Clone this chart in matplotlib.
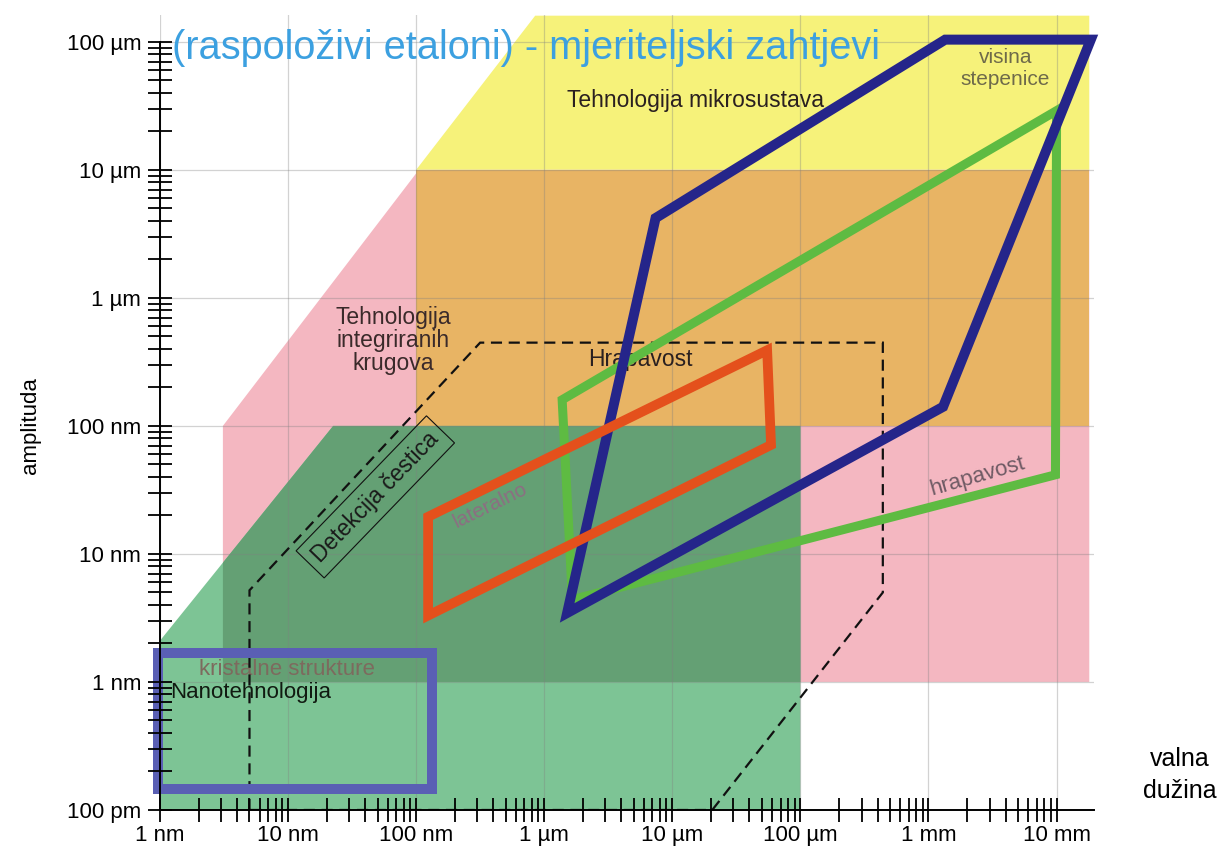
import numpy as np
import matplotlib
matplotlib.use("Agg")
import matplotlib.pyplot as plt
from matplotlib.patches import Polygon
from matplotlib.ticker import LogLocator, NullFormatter

plt.rcParams['font.family'] = ['Liberation Sans', 'DejaVu Sans']

# all lengths in nm
x_ticks = [1, 10, 100, 1e3, 1e4, 1e5, 1e6, 1e7]
x_labels = ['1 nm', '10 nm', '100 nm', '1 µm', '10 µm', '100 µm', '1 mm', '10 mm']
y_ticks = [0.1, 1, 10, 100, 1e3, 1e4, 1e5]
y_labels = ['100 pm', '1 nm', '10 nm', '100 nm', '1 µm', '10 µm', '100 µm']

# application areas (filled)
mikro_x = [100, 850, 1.8e7, 1.8e7]
mikro_y = [1e4, 1.6e5, 1.6e5, 1e4]
ic_x = [3.1, 3.1, 105, 1.8e7, 1.8e7]
ic_y = [1, 100, 1e4, 1e4, 1]
hrap_x = [100, 100, 1.8e7, 1.8e7]
hrap_y = [100, 1e4, 1e4, 100]
nano_x = [1, 1, 22.5, 1e5, 1e5]
nano_y = [0.1, 2.1, 100, 100, 0.1]

# particle detection (dashed)
det_x = [5.0, 5.0, 316, 4.4e5, 4.4e5, 2.05e4]
det_y = [0.1, 5.2, 447, 447, 5.0, 0.1]

# available standards (outlines)
step_x = [1510, 7.4e3, 1.35e6, 1.85e7, 1.3e6]
step_y = [3.46, 4.2e3, 1.04e5, 1.04e5, 141]
rough_x = [1380, 1660, 9.8e6, 1.0e7]
rough_y = [160, 4.4, 41.5, 2.9e4]
lat_x = [124, 5.5e4, 5.9e4, 124]
lat_y = [19.5, 390, 71, 3.3]
kris_x = [0.96, 0.96, 133, 133]
kris_y = [0.146, 1.69, 1.69, 0.146]


def poly(xs, ys, **kw):
    return Polygon(np.column_stack([xs, ys]), closed=True, **kw)


fig = plt.figure(figsize=(12.22, 8.47), dpi=100)
ax = fig.add_axes([0.1309, 0.0437, 0.7646, 0.9386])
ax.set_xscale('log')
ax.set_yscale('log')
ax.set_xlim(1, 1.97e7)
ax.set_ylim(0.1, 1.62e5)

ax.add_patch(poly(mikro_x, mikro_y, fc='#F6F27A', ec='none', zorder=1.0))
ax.add_patch(poly(ic_x, ic_y, fc='#F4B7C1', ec='none', zorder=1.1))
ax.add_patch(poly(hrap_x, hrap_y, fc='#E8B464', ec='none', zorder=1.2))
nano = poly(nano_x, nano_y, fc='#7DC495', ec='none', zorder=1.3)
ax.add_patch(nano)
# where nanotech overlaps the IC area it gets darker
dark = poly(ic_x, ic_y, fc='#64A074', ec='none', zorder=1.4)
ax.add_patch(dark)
dark.set_clip_path(nano)

# decade grid
for xv in x_ticks:
    ax.axvline(xv, color='#808080', alpha=0.35, lw=0.9, zorder=1.5)
for yv in y_ticks:
    ax.axhline(yv, color='#808080', alpha=0.35, lw=0.9, zorder=1.5)

ax.add_patch(poly(det_x, det_y, fill=False, ec='#111111', lw=1.6,
                  ls=(0, (5, 3)), zorder=1.8))

ax.add_patch(poly(rough_x, rough_y, fill=False, ec='#5EBB42', lw=6.5,
                  joinstyle='miter', zorder=2.0, clip_on=False))
ax.add_patch(poly(step_x, step_y, fill=False, ec='#25258A', lw=7.2,
                  joinstyle='miter', zorder=2.1, clip_on=False))
ax.add_patch(poly(lat_x, lat_y, fill=False, ec='#E4501C', lw=7.0,
                  joinstyle='miter', zorder=2.2))
ax.add_patch(poly(kris_x, kris_y, fill=False, ec='#5A5FB4', lw=7.2,
                  joinstyle='miter', zorder=2.3, clip_on=False))

# labels
ax.text(1.24, 8.9e4, '(raspoloživi etaloni) - mjeriteljski zahtjevi',
        color='#3CA0E0', fontsize=28.6, ha='left', va='center', zorder=1.7)
ax.text(1.51e4, 3.5e4, 'Tehnologija mikrosustava', fontsize=16.5,
        color='#2A2020', ha='center', va='center', zorder=1.7)
ax.text(3.98e6, 6.2e4, 'visina\nstepenice', fontsize=15, color='#6E6A4A',
        ha='center', va='center', linespacing=1.25, zorder=1.7)
ax.text(66, 468, 'Tehnologija\nintegriranih\nkrugova', fontsize=16.5,
        color='#3A2A2A', ha='center', va='center', linespacing=1.0, zorder=1.7)
ax.text(5.6e3, 333, 'Hrapavost', fontsize=16.5, color='#2A2020',
        ha='center', va='center', zorder=1.7)
ax.text(2.4e6, 40, 'hrapavost', fontsize=16, color='#6E5A64',
        ha='center', va='center', rotation=16, zorder=1.7)
ax.text(380, 24, 'lateralno', fontsize=15, color='#8C6E82',
        ha='center', va='center', rotation=26, zorder=1.7)
ax.text(48, 27.9, 'Detekcija čestica', fontsize=16.5, color='#1A1A1A',
        ha='center', va='center', rotation=46, zorder=1.7,
        bbox=dict(boxstyle='square,pad=0.35', fc='none', ec='#111111', lw=0.8))
ax.text(9.8, 1.26, 'kristalne strukture', fontsize=16, color='#7D6A5E',
        ha='center', va='center', zorder=1.7)
ax.text(1.2, 0.82, 'Nanotehnologija', fontsize=16, color='#111A11',
        ha='left', va='center', zorder=1.7)

# axes styling
for side in ('top', 'right'):
    ax.spines[side].set_visible(False)
ax.spines['left'].set_bounds(0.1, 1e5)
ax.spines['left'].set_linewidth(1.4)
ax.spines['bottom'].set_linewidth(1.4)
ax.set_axisbelow(False)
ax.patch.set_alpha(0)

ax.set_xticks(x_ticks, x_labels)
ax.set_yticks(y_ticks, y_labels)
ax.xaxis.set_minor_locator(LogLocator(base=10, subs=np.arange(2, 10), numticks=20))
ax.yaxis.set_minor_locator(LogLocator(base=10, subs=np.arange(2, 10), numticks=20))
ax.xaxis.set_minor_formatter(NullFormatter())
ax.yaxis.set_minor_formatter(NullFormatter())
ax.tick_params(which='both', direction='inout', length=17, width=1.3,
               labelsize=16, colors='black')
ax.tick_params(axis='y', which='both', pad=5)
ax.tick_params(axis='x', which='both', pad=2)

fig.text(0.016, 0.498, 'amplituda', rotation=90, fontsize=16,
         ha='left', va='center')
fig.text(0.9656, 0.085, 'valna\ndužina', fontsize=18, ha='center',
         va='center', linespacing=1.45)

fig.savefig('out.png', dpi=100)
